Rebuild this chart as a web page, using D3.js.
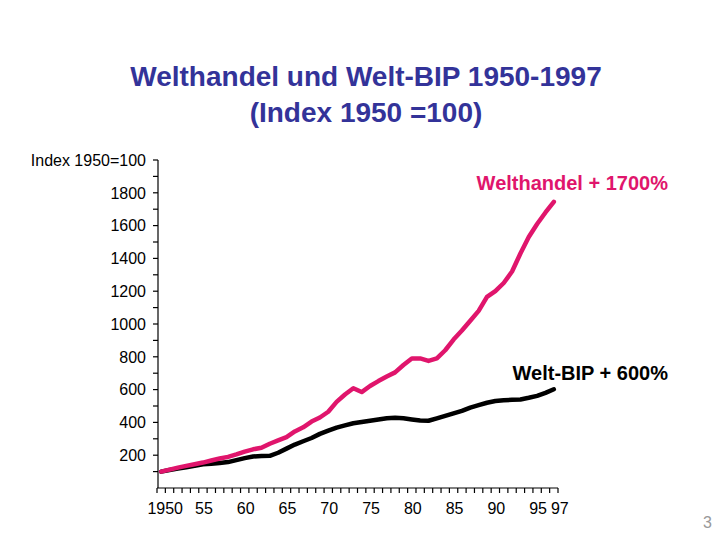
<!DOCTYPE html>
<html><head><meta charset="utf-8">
<script src="https://cdn.jsdelivr.net/npm/d3@7/dist/d3.min.js"></script>
<style>
html,body{margin:0;padding:0;background:#fff;}
svg{display:block;font-family:"Liberation Sans",Arial,sans-serif;}
</style></head>
<body>
<svg id="chart" width="720" height="540"></svg>
<script>
const years = d3.range(1950, 1998);
const welthandel = [100,112,124,135,145,155,168,180,190,205,222,236,245,270,290,310,
  345,370,405,430,465,525,570,608,585,622,652,680,705,750,790,790,775,790,840,905,
  960,1020,1080,1165,1200,1250,1320,1430,1530,1610,1680,1745];
const weltBIP = [100,110,118,127,135,145,148,152,158,170,182,192,195,196,215,240,
  265,285,305,330,350,368,382,395,403,410,418,425,428,425,418,412,410,425,440,455,
  470,490,505,520,530,535,538,540,550,562,580,602];
const xTickLabels = ["1950","55","60","65","70","75","80","85","90","95","97"];
const xTickYears = [1950,1955,1960,1965,1970,1975,1980,1985,1990,1995,1997];
const yTickValues = [200,400,600,800,1000,1200,1400,1600,1800];
const yTopLabel = "Index 1950=100";
const titleLines = ["Welthandel und Welt-BIP 1950-1997","(Index 1950 =100)"];
const seriesLabels = ["Welthandel + 1700%","Welt-BIP + 600%"];
const pageNumber = "3";

const svg = d3.select("#chart");
const x = d3.scaleLinear().domain([1949.5, 1997.5]).range([157, 558]);
const y = d3.scaleLinear().domain([0, 2000]).range([488, 160]);

// title
svg.selectAll("text.title").data(titleLines).enter().append("text")
  .attr("class","title")
  .attr("x", 366).attr("y", (d,i)=> 86 + i*36)
  .attr("text-anchor","middle")
  .attr("font-size", 28).attr("font-weight","bold")
  .attr("fill","#333399")
  .text(d=>d);

// y axis
const ya = svg.append("g");
ya.append("line").attr("x1",158).attr("x2",158).attr("y1",y(2000)).attr("y2",y(0))
  .attr("stroke","#000").attr("stroke-width",1.2);
ya.selectAll("line.t").data(d3.range(100,2001,100)).enter().append("line")
  .attr("x1",153).attr("x2",158).attr("y1",d=>y(d)).attr("y2",d=>y(d))
  .attr("stroke","#000").attr("stroke-width",1.2);
ya.selectAll("text.yl").data(yTickValues).enter().append("text")
  .attr("x",146).attr("y",d=>y(d)).attr("dy","0.36em")
  .attr("text-anchor","end").attr("font-size",16).attr("fill","#000")
  .text(d=>d);
ya.append("text").attr("x",146).attr("y",y(2000)).attr("dy","0.36em")
  .attr("text-anchor","end").attr("font-size",16).attr("fill","#000").text(yTopLabel);

// x axis
const xa = svg.append("g");
xa.append("line").attr("x1",x(1949.5)).attr("x2",x(1997.5)).attr("y1",488).attr("y2",488)
  .attr("stroke","#000").attr("stroke-width",1.2);
xa.selectAll("line.t").data(d3.range(1949.5,1998,1)).enter().append("line")
  .attr("x1",d=>x(d)).attr("x2",d=>x(d)).attr("y1",488).attr("y2",493)
  .attr("stroke","#000").attr("stroke-width",1.2);
xa.selectAll("text.xl").data(xTickYears).enter().append("text")
  .attr("x",(d)=> x(d) + (d===1950?4:(d===1997?6:1)))
  .attr("y",514).attr("text-anchor","middle").attr("font-size",16).attr("fill","#000")
  .text((d,i)=>xTickLabels[i]);

// lines
const line = d3.line().x((d,i)=>x(years[i])).y(d=>y(d));
svg.append("path").datum(weltBIP).attr("d",line).attr("fill","none")
  .attr("stroke","#000").attr("stroke-width",4.5).attr("stroke-linejoin","round").attr("stroke-linecap","round");
svg.append("path").datum(welthandel).attr("d",line).attr("fill","none")
  .attr("stroke","#e0156c").attr("stroke-width",4.5).attr("stroke-linejoin","round").attr("stroke-linecap","round");

// series labels
svg.append("text").attr("x",668).attr("y",190).attr("text-anchor","end")
  .attr("font-size",20).attr("font-weight","bold").attr("fill","#e0156c").text(seriesLabels[0]);
svg.append("text").attr("x",668).attr("y",380).attr("text-anchor","end")
  .attr("font-size",20).attr("font-weight","bold").attr("fill","#000").text(seriesLabels[1]);

// page number
svg.append("text").attr("x",712).attr("y",528).attr("text-anchor","end")
  .attr("font-size",16).attr("fill","#999").text(pageNumber);
</script>
</body></html>
